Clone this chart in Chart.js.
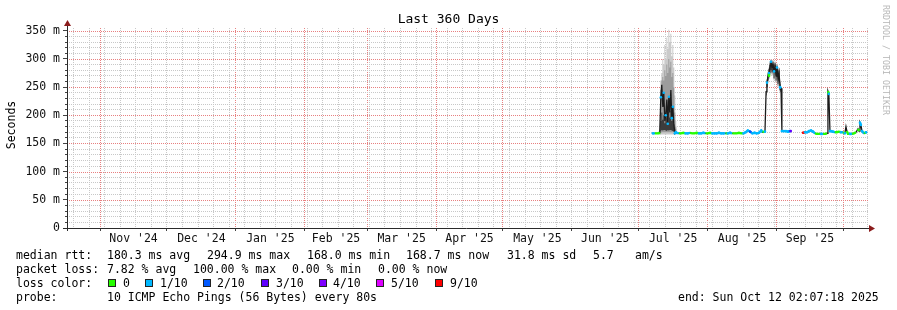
<!DOCTYPE html>
<html>
<head>
<meta charset="utf-8">
<script src="https://cdn.jsdelivr.net/npm/chart.js@4.4.1/dist/chart.umd.min.js"></script>
<style>
  body { margin: 0; background: #fff; }
  #wrap { position: relative; width: 897px; height: 310px; font-family: "DejaVu Sans Mono", monospace; color: #000; }
  #wrap canvas { position: absolute; left: 0; top: 0; }
  .t { position: absolute; white-space: pre; font-size: 11.5px; line-height: 14px; }
  .box { position: absolute; width: 6px; height: 6px; border: 1px solid #222; top: 279px; }
  #title { position: absolute; left: 0; top: 11px; width: 897px; text-align: center; font-size: 13px; line-height: 16px; }
  #ylab { position: absolute; left: -39px; top: 118px; width: 100px; text-align: center; font-size: 11.5px; line-height: 14px; transform: rotate(-90deg); }
  #credit { position: absolute; left: 821px; top: 55px; width: 130px; text-align: center; font-size: 8.3px; line-height: 10px; color: #b8b8b8; transform: rotate(90deg); white-space: pre; }
</style>
</head>
<body>
<div id="wrap">
  <canvas id="chart" width="897" height="310"></canvas>
  <div id="title">Last 360 Days</div>
  <div id="ylab">Seconds</div>
  <div id="credit">RRDTOOL / TOBI OETIKER</div>

  <span class="t" style="left:16px;top:248px">median rtt:</span>
  <span class="t" style="left:107px;top:248px">180.3 ms avg</span>
  <span class="t" style="left:207px;top:248px">294.9 ms max</span>
  <span class="t" style="left:307px;top:248px">168.0 ms min</span>
  <span class="t" style="left:406px;top:248px">168.7 ms now</span>
  <span class="t" style="left:507px;top:248px">31.8 ms sd</span>
  <span class="t" style="left:593px;top:248px">5.7</span>
  <span class="t" style="left:635px;top:248px">am/s</span>

  <span class="t" style="left:16px;top:262px">packet loss:</span>
  <span class="t" style="left:107px;top:262px">7.82 % avg</span>
  <span class="t" style="left:193px;top:262px">100.00 % max</span>
  <span class="t" style="left:292px;top:262px">0.00 % min</span>
  <span class="t" style="left:378px;top:262px">0.00 % now</span>

  <span class="t" style="left:16px;top:276px">loss color:</span>
  <span class="box" style="left:108px;background:#26ff00"></span><span class="t" style="left:123px;top:276px">0</span>
  <span class="box" style="left:145px;background:#00b8ff"></span><span class="t" style="left:160px;top:276px">1/10</span>
  <span class="box" style="left:203px;background:#0059ff"></span><span class="t" style="left:217px;top:276px">2/10</span>
  <span class="box" style="left:261px;background:#5e00ff"></span><span class="t" style="left:276px;top:276px">3/10</span>
  <span class="box" style="left:319px;background:#7e00ff"></span><span class="t" style="left:333px;top:276px">4/10</span>
  <span class="box" style="left:376px;background:#dd00ff"></span><span class="t" style="left:391px;top:276px">5/10</span>
  <span class="box" style="left:435px;background:#ff0000"></span><span class="t" style="left:450px;top:276px">9/10</span>

  <span class="t" style="left:16px;top:290px">probe:</span>
  <span class="t" style="left:107px;top:290px">10 ICMP Echo Pings (56 Bytes) every 80s</span>
  <span class="t" style="left:678px;top:290px">end: Sun Oct 12 02:07:18 2025</span>
</div>

<script>
// x values are days since the start of the window (Oct 17 2024 02:07)
const monthStarts = [14.91, 44.91, 75.91, 106.91, 134.91, 165.91, 195.91, 226.91, 256.91, 287.91, 318.91, 348.91];
const monthLabels = ["Nov '24", "Dec '24", "Jan '25", "Feb '25", "Mar '25", "Apr '25", "May '25", "Jun '25", "Jul '25", "Aug '25", "Sep '25"];
const firstSunday = 2.91;
const yTicks = [0, 50, 100, 150, 200, 250, 300, 350];
const yTickLabels = ['0', '50 m', '100 m', '150 m', '200 m', '250 m', '300 m', '350 m'];

// median rtt (ms) and loss (tenths) per sample; null = no data
const medianDays = [
  263.3, 264.2, 265.1, 266.0,
  266.4, 266.9, 267.3, 267.8, 268.2, 268.7, 269.1, 269.6, 270.0, 270.5, 270.9, 271.4, 271.8, 272.3, 272.7, 273.2, 273.6,
  274, 275, 276, 277, 278, 279, 280, 281, 282, 283, 284, 285, 286, 287, 288, 289, 290, 291, 292, 293,
  294, 295, 296, 297, 298, 299, 300, 301, 302, 303, 304, 305, 306, 307, 308, 309, 310, 311, 312, 312.6, 313.2, 313.7,
  314.2, 314.6, 315.1, 315.5, 316.0, 316.4, 316.9, 317.3, 317.8, 318.2, 318.7, 319.1, 319.6, 320.0, 320.5, 320.9,
  321.3, 322.2, 323.1, 324.0, 324.9, 325.3,
  328,
  330.8, 331.7, 332.6, 333.5, 334.4, 335.3, 336.2, 337.1, 338.0, 338.9, 339.8, 340.7, 341.6,
  342.0, 342.4, 342.9, 343.3, 344.2, 345.1, 346.0, 346.9, 347.8, 348.7, 349.6,
  350.1, 350.5, 351.0, 351.9, 352.8, 353.7, 354.6, 355.5, 356.0, 356.4, 356.8, 357.3, 358.2, 359.1, 359.6
];
const medianMs = [
  168, 168, 168, 168,
  170, 232, 254, 215, 240, 190, 200, 228, 185, 233, 205, 245, 195, 215, 185, 168, 170,
  169, 168, 168, 169, 168, 168, 169, 168, 168, 169, 168, 168, 169, 168, 168, 169, 168, 168, 168, 169,
  168, 168, 168, 168, 169, 168, 168, 168, 169, 168, 168, 170, 173, 171, 168, 169, 168, 169, 173, 170, 171, 171,
  242, 258, 270, 275, 288, 295, 285, 292, 278, 290, 270, 285, 265, 275, 250, 248,
  172, 172, 172, 171, 172, 172,
  null,
  169, 170, 170, 172, 173, 171, 168, 167, 167, 167, 167, 167, 168,
  243, 238, 172, 172, 171, 170, 170, 171, 170, 170, 168,
  180, 172, 167, 167, 167, 168, 170, 176, 172, 187, 183, 172, 168, 170, 170
];
const lossTenths = [
  1, 0, 0, 0,
  0, 1, 0, 0, 1, 0, 1, 0, 1, 1, 0, 0, 1, 1, 0, 1, 1,
  1, 0, 0, 0, 1, 1, 0, 0, 0, 0, 1, 1, 1, 0, 0, 0, 1, 1, 1, 1,
  1, 1, 0, 1, 1, 0, 0, 0, 0, 0, 1, 1, 1, 2, 1, 1, 1, 1, 1, 0, 0, 1,
  0, 1, 0, 1, 0, 1, 0, 0, 1, 0, 0, 1, 0, 0, 1, 0,
  1, 1, 1, 1, 2, 3,
  0,
  9, 1, 1, 1, 1, 1, 0, 0, 0, 1, 0, 0, 0,
  0, 1, 1, 1, 1, 0, 0, 0, 1, 0, 1,
  0, 0, 0, 1, 0, 0, 0, 0, 0, 1, 1, 1, 0, 1, 0
];

// smoke (spread of the individual pings), only where it is wide enough to see
const smokeDays = [
  266.4, 266.9, 267.3, 267.8, 268.2, 268.7, 269.1, 269.6, 270.0, 270.5, 270.9, 271.4, 271.8, 272.3, 272.7, 273.2, 273.6, 274.1,
  300,
  314.2, 314.6, 315.1, 315.5, 316.0, 316.4, 316.9, 317.3, 317.8, 318.2, 318.7, 319.1, 319.6, 320.0, 320.5, 320.9
];
const smokeHi = [
  200, 262, 275, 300, 290, 325, 300, 338, 318, 352, 330, 345, 305, 325, 285, 235, 190, 176,
  null,
  250, 265, 278, 285, 296, 300, 298, 298, 292, 296, 290, 292, 282, 285, 262, 255
];
const smokeMidHi = [
  190, 245, 262, 268, 262, 280, 270, 290, 275, 300, 285, 295, 268, 275, 250, 205, 180, 172,
  null,
  248, 263, 276, 283, 294, 298, 295, 296, 290, 294, 287, 290, 279, 283, 259, 253
];
const smokeCoreHi = [
  172, 190, 205, 192, 200, 186, 195, 202, 184, 206, 196, 208, 190, 198, 184, 176, 172, 170,
  null,
  244, 260, 274, 282, 292, 297, 292, 295, 286, 293, 282, 288, 275, 280, 255, 250
];
const smokeCoreLo = [
  168, 172, 174, 173, 174, 174, 173, 172, 174, 173, 174, 174, 173, 172, 171, 170, 168, 168,
  null,
  236, 250, 262, 268, 275, 280, 276, 278, 266, 275, 262, 268, 255, 262, 245, 242
];
const smokeMidLo = [
  166, 168, 170, 170, 170, 170, 170, 170, 170, 170, 170, 170, 170, 170, 170, 168, 167, 167,
  null,
  235, 249, 260, 266, 272, 277, 273, 275, 264, 272, 260, 265, 252, 260, 243, 241
];
const smokeLo = [
  165, 166, 166, 166, 166, 166, 166, 166, 166, 166, 166, 166, 166, 166, 166, 166, 166, 166,
  null,
  234, 248, 258, 264, 270, 275, 270, 272, 262, 270, 258, 262, 250, 258, 242, 240
];

const lossColors = { 0: '#26ff00', 1: '#00b8ff', 2: '#0059ff', 3: '#5e00ff', 4: '#7e00ff', 5: '#dd00ff', 9: '#ff0000' };

const toPoints = (xs, ys) => xs.map((x, i) => ({ x: x, y: ys[i] }));

const labelDays = monthLabels.map((l, i) => (monthStarts[i] + monthStarts[i + 1]) / 2);
const weekDays = [];
for (let d = firstSunday; d < 360; d += 7) weekDays.push(d);
// minor 10 ms lines, skipping the 50 ms ones that the red grid draws
const minorY = [];
for (let v = 10; v <= 350; v += 10) if (v % 50 !== 0) minorY.push(v);

const mono = { family: 'DejaVu Sans Mono', size: 11.5 };
const redGrid = '#e88080';
const grayGrid = '#c8c8c8';
const tickDark = '#444';

function smokeLine(ys, fill, color, order) {
  return {
    data: toPoints(smokeDays, ys),
    fill: fill ? '+1' : false,
    backgroundColor: color,
    borderColor: 'transparent',
    borderWidth: 1,
    pointRadius: 0,
    stepped: 'middle',
    order: order
  };
}

// red dotted lines at every 50 ms, drawn under the data
const majorYGrid = {
  id: 'majorYGrid',
  beforeDatasetsDraw(chart) {
    const { ctx, chartArea: a, scales } = chart;
    ctx.save();
    ctx.strokeStyle = redGrid;
    ctx.lineWidth = 1;
    ctx.setLineDash([1, 1]);
    yTicks.forEach(v => {
      if (v === 0) return;
      const y = Math.round(scales.y.getPixelForValue(v)) + 0.5;
      ctx.beginPath();
      ctx.moveTo(a.left, y);
      ctx.lineTo(a.right, y);
      ctx.stroke();
    });
    ctx.restore();
  }
};

// axis lines with the little dark red arrows
const axisArrows = {
  id: 'axisArrows',
  afterDraw(chart) {
    const { ctx, chartArea: a } = chart;
    const x0 = a.left + 0.5, y0 = a.bottom + 0.5;
    ctx.save();
    ctx.strokeStyle = '#2a2a2a';
    ctx.lineWidth = 1;
    ctx.beginPath();
    ctx.moveTo(x0, a.bottom + 3);
    ctx.lineTo(x0, a.top - 3);
    ctx.moveTo(a.left - 4, y0);
    ctx.lineTo(a.right + 2, y0);
    ctx.stroke();
    ctx.fillStyle = '#8b1c1c';
    ctx.beginPath();
    ctx.moveTo(x0, a.top - 8);
    ctx.lineTo(x0 - 3.5, a.top - 2);
    ctx.lineTo(x0 + 3.5, a.top - 2);
    ctx.closePath();
    ctx.fill();
    ctx.beginPath();
    ctx.moveTo(a.right + 7, y0);
    ctx.lineTo(a.right + 1, y0 - 3.5);
    ctx.lineTo(a.right + 1, y0 + 3.5);
    ctx.closePath();
    ctx.fill();
    ctx.restore();
  }
};

const ctx = document.getElementById('chart').getContext('2d');
new Chart(ctx, {
  type: 'line',
  data: {
    datasets: [
      smokeLine(smokeHi, true, '#cacaca', 5),
      smokeLine(smokeLo, false, null, 5),
      smokeLine(smokeMidHi, true, '#9c9c9c', 4),
      smokeLine(smokeMidLo, false, null, 4),
      smokeLine(smokeCoreHi, true, '#3c3c3c', 3),
      smokeLine(smokeCoreLo, false, null, 3),
      {
        data: toPoints(medianDays, medianMs),
        borderColor: '#1c1c1c',
        borderWidth: 1.3,
        pointRadius: 0,
        fill: false,
        order: 2
      },
      {
        data: toPoints(medianDays, medianMs),
        borderWidth: 2.4,
        fill: false,
        order: 1,
        segment: {
          borderColor: c => Math.abs(c.p1.parsed.y - c.p0.parsed.y) <= 5 ? lossColors[lossTenths[c.p0DataIndex]] : 'transparent'
        },
        pointRadius: c => lossTenths[c.dataIndex] > 0 ? 1.3 : 0,
        pointBorderWidth: 0,
        pointBackgroundColor: c => lossColors[lossTenths[c.dataIndex]]
      }
    ]
  },
  options: {
    responsive: false,
    animation: false,
    spanGaps: false,
    layout: { padding: { top: 28, right: 29, left: 0, bottom: 0 } },
    plugins: {
      legend: { display: false },
      tooltip: { enabled: false },
      title: { display: false }
    },
    scales: {
      x: {
        type: 'linear', min: 0, max: 360, position: 'bottom', weight: 2,
        afterBuildTicks: s => { s.ticks = labelDays.map(v => ({ value: v })); },
        afterFit: s => { s.height = 82; },
        ticks: { callback: (v, i) => monthLabels[i], autoSkip: false, maxRotation: 0, padding: 4, font: mono, color: '#111' },
        grid: { display: false, drawTicks: false },
        border: { display: false }
      },
      xMonth: {
        type: 'linear', min: 0, max: 360, position: 'bottom', weight: 0,
        afterBuildTicks: s => { s.ticks = monthStarts.map(v => ({ value: v })); },
        afterFit: s => { s.height = 0; },
        ticks: { display: false },
        grid: { color: redGrid, tickLength: 3, tickColor: tickDark, tickBorderDash: [] },
        border: { display: false, dash: [1, 1] }
      },
      xWeek: {
        type: 'linear', min: 0, max: 360, position: 'bottom', weight: 1,
        afterBuildTicks: s => { s.ticks = weekDays.map(v => ({ value: v })); },
        afterFit: s => { s.height = 0; },
        ticks: { display: false },
        grid: { color: grayGrid, drawTicks: false },
        border: { display: false, dash: [1, 1] }
      },
      y: {
        type: 'linear', min: 0, max: 355, position: 'left', weight: 1,
        afterBuildTicks: s => { s.ticks = yTicks.map(v => ({ value: v })); },
        afterFit: s => { s.width = 67; },
        ticks: { callback: (v, i) => yTickLabels[i], padding: 3, font: mono, color: '#111' },
        grid: { drawOnChartArea: false, tickLength: 4, tickColor: tickDark, tickBorderDash: [] },
        border: { display: false }
      },
      yMinor: {
        type: 'linear', min: 0, max: 355, position: 'left', weight: 0,
        afterBuildTicks: s => { s.ticks = minorY.map(v => ({ value: v })); },
        afterFit: s => { s.width = 0; },
        ticks: { display: false },
        grid: { color: grayGrid, tickLength: 2, tickColor: tickDark, tickBorderDash: [] },
        border: { display: false, dash: [1, 1] }
      }
    }
  },
  plugins: [majorYGrid, axisArrows]
});
</script>
</body>
</html>
